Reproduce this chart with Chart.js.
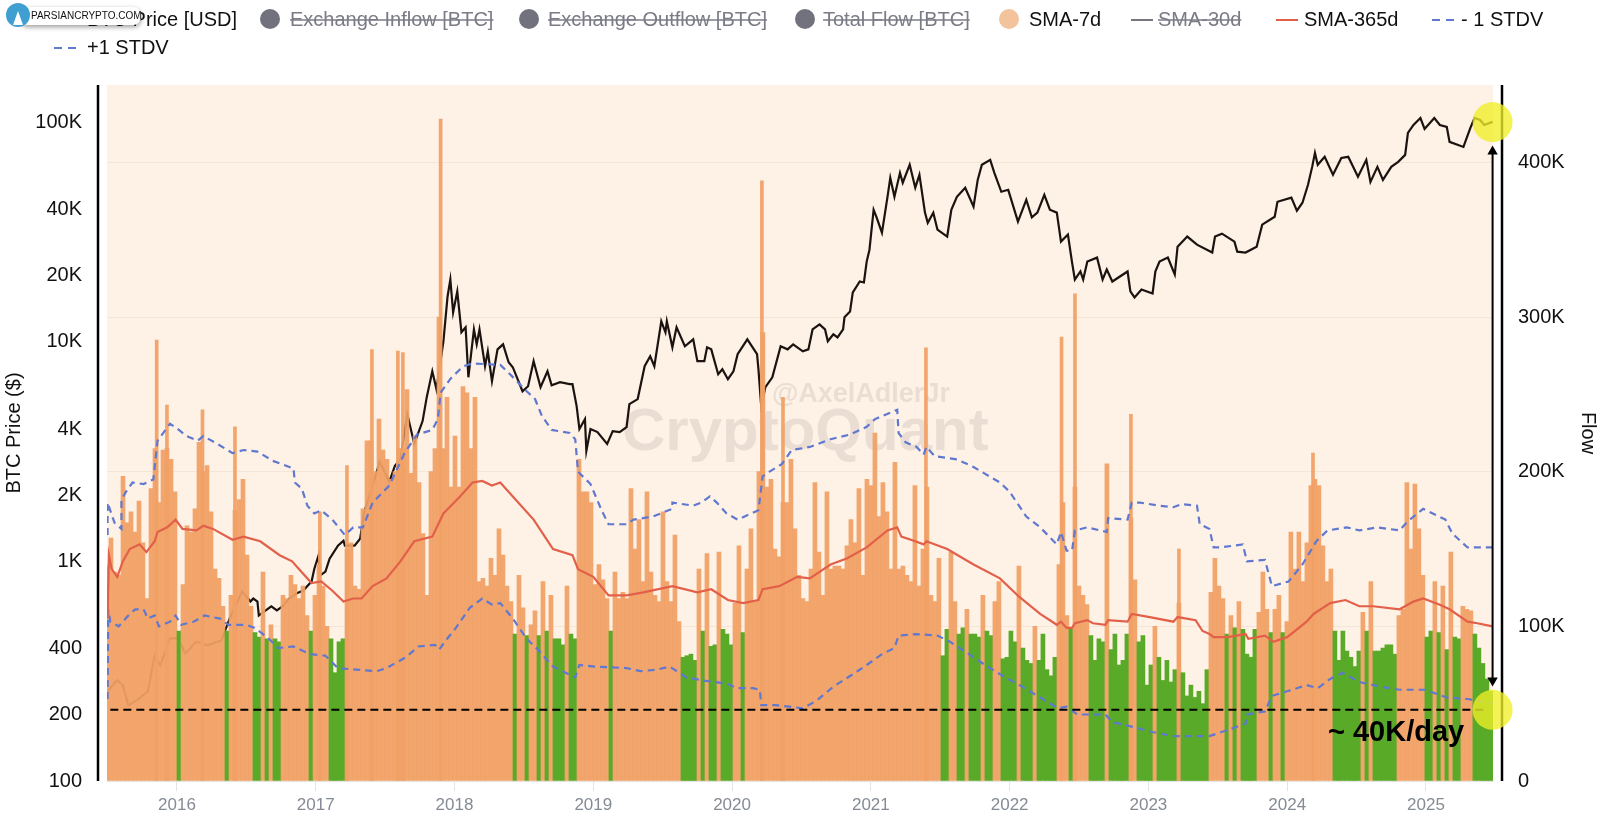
<!DOCTYPE html>
<html>
<head>
<meta charset="utf-8">
<title>BTC Exchange Flow</title>
<script src="https://cdn.jsdelivr.net/npm/chart.js@4/dist/chart.umd.min.js"></script>
<style>
  html, body { margin: 0; padding: 0; background: #fff; }
  canvas { display: block; }
</style>
</head>
<body>
<canvas id="flowChart" width="1600" height="818"></canvas>
<script>
// --- tick labels ---
const yearTicks = [2016, 2017, 2018, 2019, 2020, 2021, 2022, 2023, 2024, 2025];
const priceTicks = [100, 200, 400, 1000, 2000, 4000, 10000, 20000, 40000, 100000];
const flowTicks = [0, 100, 200, 300, 400];

// --- legend ---
const legendLabels = ['BTC Price [USD]', 'Exchange Inflow [BTC]', 'Exchange Outflow [BTC]', 'Total Flow [BTC]', 'SMA-7d', 'SMA-30d', 'SMA-365d', '- 1 STDV', '+1 STDV'];
const legendHidden = [false, true, true, true, false, true, false, false, false];

// --- flow bars, thousands of BTC, one value every flowStepYears ---
const flowStartYear = 2015.496;
const flowStepYears = 0.02882;
const flowValues = [
  139,157,135,133,197,167,174,161,181,154,
  118,189,215,180,214,215,208,187,97,127,
  165,161,176,219,200,204,174,137,131,113,
  97,120,175,182,195,146,113,96,93,135,
  92,101,92,90,120,118,133,127,118,126,
  107,97,120,140,126,100,92,70,90,92,
  150,154,126,124,176,220,220,200,234,214,
  208,195,200,215,215,253,199,223,193,160,
  120,200,215,300,215,248,190,223,190,255,
  251,215,248,129,131,126,144,133,163,146,
  126,116,95,133,112,94,101,110,94,129,
  97,120,92,92,88,126,95,92,208,187,
  187,180,127,140,130,118,97,135,118,122,
  118,189,150,169,129,187,135,120,116,174,
  129,116,159,103,80,81,82,78,137,97,
  147,87,88,148,98,95,88,115,152,96,
  137,163,116,200,290,190,195,150,145,180,
  180,208,163,133,118,116,137,193,148,120,
  187,137,139,139,137,152,169,154,189,133,
  195,191,225,171,193,174,137,206,137,139,
  133,129,191,126,150,190,120,116,144,81,
  98,148,116,95,99,111,95,95,93,120,
  97,94,116,129,79,80,97,90,139,86,
  78,76,100,78,95,72,68,80,140,180,
  107,98,190,126,120,114,94,78,92,90,
  205,85,95,75,78,95,170,130,90,94,
  62,75,100,80,65,78,64,72,115,70,
  55,62,54,58,50,72,122,144,126,118,
  95,107,99,116,98,82,80,98,109,135,
  111,96,111,120,96,103,161,137,161,129,
  154,191,195,191,152,129,137,97,78,97,
  84,80,74,84,109,97,129,84,84,86,
  88,88,82,107,111,193,150,192,163,133,
  93,97,129,96,126,85,148,93,92,113,
  111,110,95,86,76,66,58
];
const flowSplit = 100; // bars under this level are green

// --- the sharp tips of the tallest flow spikes ---
const spikeYears = [2015.854, 2015.928, 2016.184, 2016.418, 2017.03, 2017.225, 2017.405, 2017.592, 2017.628, 2017.90, 2020.215, 2020.367, 2021.397, 2022.374, 2022.471, 2022.874, 2023.22, 2024.186];
const spikeValues = [285, 243, 240, 229, 174, 204, 279, 278, 277, 428, 388, 248, 280, 287, 315, 237, 150, 212];

// --- BTC price, USD ---
const priceYears = [
  2015.50,2015.57,2015.61,2015.65,2015.71,2015.79,2015.84,2015.88,2015.95,2016.01,2016.06,2016.14,2016.22,2016.32,2016.38,2016.47,2016.53,2016.55,2016.58,2016.59,2016.63,2016.68,2016.72,2016.76,2016.81,2016.86,2016.91,2016.97,2016.99,2017.02,2017.03,2017.07,2017.10,2017.16,2017.20,2017.21,2017.28,2017.32,2017.35,2017.41,2017.46,2017.48,2017.53,2017.57,2017.61,
  2017.66,2017.71,2017.77,2017.80,2017.84,2017.87,2017.92,2017.95,2017.97,2017.99,2018.02,2018.05,2018.08,2018.10,2018.14,2018.16,2018.18,2018.22,2018.24,2018.27,2018.31,2018.35,2018.39,2018.42,2018.49,2018.53,2018.57,2018.62,2018.67,2018.70,2018.76,2018.83,
  2018.85,2018.88,2018.90,2018.94,2018.95,2018.98,2019.03,2019.10,2019.14,2019.19,2019.24,2019.26,2019.32,2019.37,2019.41,2019.44,2019.49,2019.52,2019.53,2019.57,2019.60,2019.66,2019.72,2019.75,2019.80,2019.82,2019.85,2019.90,2019.93,2019.97,2020.01,2020.04,2020.11,2020.18,2020.19,2020.21,2020.24,2020.29,2020.35,2020.40,2020.44,2020.51,2020.55,2020.58,2020.63,2020.67,2020.69,2020.73,2020.76,2020.80,2020.81,2020.85,2020.87,2020.92,2020.95,2020.97,2020.99,
  2021.02,2021.04,2021.08,2021.12,2021.14,2021.17,2021.21,2021.23,2021.28,2021.32,2021.35,2021.39,2021.41,2021.45,2021.48,2021.55,2021.58,2021.62,2021.68,2021.74,2021.77,2021.80,2021.86,2021.89,2021.94,2021.99,2022.06,2022.12,2022.16,2022.20,2022.25,2022.29,2022.34,2022.37,2022.42,2022.45,2022.47,2022.51,2022.53,2022.56,2022.63,2022.67,2022.70,2022.74,2022.85,2022.87,2022.90,2022.95,
  2023.03,2023.05,2023.08,2023.14,2023.19,2023.21,2023.28,2023.35,2023.46,2023.48,2023.53,2023.62,2023.64,2023.70,2023.78,2023.82,2023.91,2023.93,2024.03,2024.07,2024.11,2024.15,2024.18,2024.20,2024.22,2024.27,2024.33,2024.39,2024.44,2024.51,2024.57,2024.60,2024.65,2024.69,2024.75,2024.80,2024.85,2024.87,2024.91,2024.96,2024.99,2025.06,2025.10,2025.15,2025.17,2025.27,2025.32,2025.35,2025.39,2025.42,2025.48
];
const priceValues = [
  256,288,273,221,233,256,373,336,446,446,381,432,415,437,550,729,657,678,657,567,592,624,598,624,678,714,737,810,927,1063,862,899,1030,1180,1243,1180,1180,1270,1683,2208,2840,2694,2302,2723,2930,
  4690,3428,4360,5603,7350,6090,10070,16100,19240,13630,16980,11060,11650,6900,11400,9750,11400,7750,9060,6620,9250,9750,8080,7670,5960,6280,8170,6220,7350,6350,6555,6420,
  6420,5100,4010,4450,3185,4010,3885,3430,3925,3885,4095,5210,5490,7750,8600,7750,12410,11060,12410,9450,11650,9550,10280,8170,8170,9450,9250,7130,7510,6760,7350,8790,10280,8790,7510,5100,6220,6900,9550,9250,9750,9060,9250,11400,12020,11400,10070,10830,10490,11400,12940,13770,16800,18840,18650,23220,26300,
  40000,37150,31460,45800,55900,45800,58900,53100,64100,50400,57700,38800,34900,38800,32450,30200,40000,45800,50400,41300,54700,64100,67500,58900,48300,49300,35300,44400,36900,38800,46800,40000,38800,28640,30830,22980,19240,20930,19240,23220,24210,19240,21360,18840,20930,16980,15950,17340,
  16620,20930,23220,24210,20280,27160,30200,27730,25530,30200,31130,28640,25780,25530,27160,34200,37150,43500,45400,39600,43050,52000,62700,72600,64100,69700,57700,68900,69700,56500,67500,53600,62700,54700,62700,66100,71100,89500,97300,104700,93300,104700,97300,95300,81500,77300,94400,104700,102600,97300,100500
];

// --- SMA-365d, thousands of BTC ---
const smaYears = [
  2015.50,2015.51,2015.53,2015.57,2015.61,2015.66,2015.73,2015.78,2015.84,2015.86,2015.93,2015.99,2016.04,2016.14,2016.19,2016.26,2016.40,2016.48,2016.60,2016.74,2016.83,2016.89,2016.97,2017.04,2017.12,2017.20,2017.27,2017.33,2017.41,2017.51,2017.61,2017.71,2017.84,2017.92,
  2018.04,2018.13,2018.20,2018.27,2018.33,2018.42,2018.57,2018.71,2018.85,2018.89,2019.00,2019.11,2019.24,2019.36,2019.57,2019.75,2019.85,2019.97,2020.08,2020.19,2020.22,2020.34,2020.47,2020.56,2020.71,2020.83,2020.97,
  2021.12,2021.19,2021.22,2021.32,2021.38,2021.40,2021.55,2021.74,2021.93,2022.07,2022.22,2022.34,2022.37,2022.41,2022.45,2022.47,2022.56,2022.60,2022.69,2022.71,2022.85,2022.88,
  2023.01,2023.18,2023.21,2023.34,2023.39,2023.44,2023.47,2023.57,2023.70,2023.72,2023.84,2023.90,2024.00,2024.14,2024.19,2024.31,2024.42,2024.52,2024.62,2024.81,2024.91,2024.98,2025.10,2025.17,2025.30,2025.37,2025.48
];
const smaValues = [
  105,146,137,132,142,150,153,148,155,161,164,169,163,162,165,163,156,158,155,146,142,136,128,129,123,116,118,118,126,131,142,155,158,173,
  184,193,194,191,193,184,169,150,146,137,132,120,120,122,126,122,124,117,115,117,124,126,132,131,140,144,151,
  162,164,158,155,153,155,150,140,131,119,108,101,103,99,99,102,104,102,101,104,103,108,
  106,103,106,104,97,95,93,93,95,92,94,90,93,103,108,115,117,113,113,111,116,118,114,111,103,102,100
];

// --- +1 STDV, thousands of BTC ---
const upperYears = [
  2015.50,2015.50,2015.55,2015.60,2015.60,2015.64,2015.68,2015.76,2015.83,2015.86,2015.91,2015.95,2016.00,2016.07,2016.15,2016.19,2016.29,2016.40,2016.48,2016.58,2016.69,2016.84,2016.85,2016.90,2016.94,2016.99,2017.04,2017.12,2017.21,2017.27,2017.34,2017.41,2017.53,2017.64,2017.73,2017.84,2017.88,2017.90,2017.97,
  2018.06,2018.13,2018.33,2018.40,2018.52,2018.58,2018.63,2018.70,2018.83,2018.87,2018.89,2018.98,2019.06,2019.11,2019.24,2019.29,2019.43,2019.57,2019.57,2019.72,2019.78,2019.84,2019.89,2019.96,2020.04,2020.14,2020.19,2020.22,2020.27,2020.36,2020.43,2020.56,2020.71,2020.85,2020.97,
  2021.03,2021.19,2021.20,2021.25,2021.33,2021.38,2021.40,2021.46,2021.62,2021.74,2021.93,2022.00,2022.12,2022.22,2022.34,2022.37,2022.41,2022.45,2022.47,2022.56,2022.70,2022.71,2022.85,2022.88,2022.94,
  2023.08,2023.18,2023.24,2023.35,2023.37,2023.44,2023.47,2023.52,2023.68,2023.71,2023.84,2023.89,2024.01,2024.11,2024.21,2024.29,2024.43,2024.52,2024.65,2024.81,2024.87,2024.98,2025.14,2025.19,2025.30,2025.48
];
const upperValues = [
  159,180,167,163,182,188,193,192,195,220,226,231,228,223,220,223,218,212,214,213,207,202,193,189,178,173,175,169,159,164,164,180,191,212,224,227,234,251,260,
  268,270,269,263,252,247,236,227,225,221,200,192,175,166,166,169,171,176,180,178,180,184,180,173,169,173,175,197,200,205,214,216,221,224,229,
  234,240,225,219,216,211,216,210,208,203,193,187,171,164,153,161,149,149,162,164,161,170,169,180,180,
  178,177,179,178,166,163,151,151,153,142,143,126,129,140,155,162,164,162,164,162,168,176,169,160,151,151
];

// --- -1 STDV, thousands of BTC ---
const lowerYears = [
  2015.50,2015.505,2015.52,2015.58,2015.66,2015.70,2015.76,2015.79,2015.84,2015.87,2015.95,2015.99,2016.03,2016.12,2016.20,2016.31,2016.37,2016.50,2016.56,2016.65,2016.73,2016.84,2016.96,2017.07,2017.16,2017.29,2017.44,2017.51,2017.65,2017.74,2017.86,2017.89,2017.93,
  2018.01,2018.11,2018.20,2018.27,2018.33,2018.42,2018.52,2018.60,2018.71,2018.87,2018.90,2019.01,2019.24,2019.34,2019.46,2019.55,2019.67,2019.79,2019.96,2020.04,2020.15,2020.20,2020.21,2020.32,2020.51,2020.61,2020.73,2020.87,2020.97,
  2021.08,2021.17,2021.20,2021.33,2021.48,2021.57,2021.69,2021.84,2021.95,2022.07,2022.22,2022.35,2022.41,2022.49,2022.69,2022.74,2022.89,
  2023.01,2023.18,2023.44,2023.70,2023.71,2023.84,2023.89,2024.00,2024.14,2024.22,2024.31,2024.40,2024.52,2024.67,2024.81,2024.99,2025.15,2025.30,2025.44,2025.48
];
const lowerValues = [
  53,111,103,100,108,111,111,105,107,100,103,107,101,103,107,105,101,101,99,93,86,87,82,81,73,72,71,73,80,87,88,85,90,
  99,112,118,114,115,105,92,85,74,67,75,74,73,71,72,74,67,65,63,60,60,59,49,49,47,52,61,69,75,
  82,86,94,95,94,90,83,74,68,62,54,47,48,43,43,38,35,
  32,29,29,37,43,45,55,58,62,60,66,70,64,61,59,59,54,53,51,50
];

// --- annotations, thousands of BTC ---
const levelYears = [2015.52, 2025.45];
const levelValue = 46;
const arrowYear = 2025.48;
const arrowTop = 407;
const arrowBottom = 65;
const highlightValues = [426, 46];

const toPoints = (xs, ys) => xs.map((x, i) => ({ x: x, y: ys[i] }));

const fontName = '"Liberation Sans", Arial, sans-serif';
const orange = 'rgba(241,160,100,0.93)';
const green = 'rgb(89,170,40)';
const plotColor = '#fef1e5';
const mutedColor = '#7b7b86';

// page furniture that is not data: plot background, side rules, watermarks, legend, logo
const decorations = {
  id: 'decorations',
  beforeDraw(chart) {
    const { ctx, chartArea: a } = chart;
    ctx.save();
    ctx.fillStyle = '#fff';
    ctx.fillRect(0, 0, chart.width, chart.height);
    ctx.fillStyle = plotColor;
    ctx.fillRect(a.left, a.top, a.right - a.left, a.bottom - a.top);
    ctx.restore();
  },
  beforeDatasetsDraw(chart) {
    const { ctx, chartArea: a } = chart;
    ctx.save();
    ctx.fillStyle = 'rgba(120,110,110,0.15)';
    ctx.textBaseline = 'alphabetic';
    ctx.font = 'bold 60px ' + fontName;
    ctx.fillText('CryptoQuant', 622, 450);
    ctx.font = 'bold 27px ' + fontName;
    ctx.fillText('@AxelAdlerJr', 772, 402);
    // side rules
    ctx.strokeStyle = '#000';
    ctx.lineWidth = 2.5;
    ctx.beginPath();
    ctx.moveTo(a.left - 9, a.top);
    ctx.lineTo(a.left - 9, a.bottom);
    ctx.moveTo(a.right + 9, a.top);
    ctx.lineTo(a.right + 9, a.bottom);
    ctx.stroke();
    ctx.restore();
  },
  afterDatasetsDraw(chart) {
    const { ctx } = chart;
    ctx.save();
    ctx.fillStyle = '#000';
    ctx.font = 'bold 29px ' + fontName;
    ctx.textBaseline = 'middle';
    ctx.fillText('~ 40K/day', 1328, 733);
    ctx.restore();
  },
  afterDraw(chart) {
    drawLegend(chart.ctx);
    drawLogo(chart.ctx);
  },
};

function drawLegend(ctx) {
  const icons = ['line', 'dot', 'dot', 'dot', 'dot', 'line', 'line', 'dash', 'dash'];
  const iconColors = ['#444', '#72727e', '#72727e', '#72727e', '#f3c39c', '#77777f', '#e2604a', '#6078d0', '#6078d0'];
  const iconX = [60, 270, 529, 805, 1009, 1131, 1276, 1432, 54];
  const textX = [87, 290, 548, 823, 1029, 1158, 1304, 1461, 87];
  const rowY = [20, 20, 20, 20, 20, 20, 20, 20, 48];

  ctx.save();
  ctx.font = '20px ' + fontName;
  ctx.textBaseline = 'middle';
  legendLabels.forEach((label, i) => {
    const y = rowY[i];
    ctx.strokeStyle = iconColors[i];
    ctx.fillStyle = iconColors[i];
    if (icons[i] === 'dot') {
      ctx.beginPath();
      ctx.arc(iconX[i], y - 1, 10, 0, Math.PI * 2);
      ctx.fill();
    } else {
      ctx.lineWidth = 2;
      ctx.setLineDash(icons[i] === 'dash' ? [8, 6] : []);
      ctx.beginPath();
      ctx.moveTo(iconX[i], y);
      ctx.lineTo(iconX[i] + 22, y);
      ctx.stroke();
      ctx.setLineDash([]);
    }
    ctx.fillStyle = legendHidden[i] ? mutedColor : '#111';
    ctx.fillText(label, textX[i], y);
    if (legendHidden[i]) {
      ctx.strokeStyle = mutedColor;
      ctx.lineWidth = 1.5;
      ctx.beginPath();
      ctx.moveTo(textX[i], y);
      ctx.lineTo(textX[i] + ctx.measureText(label).width, y);
      ctx.stroke();
    }
  });
  ctx.restore();
}

function drawLogo(ctx) {
  ctx.save();
  ctx.shadowColor = 'rgba(0,0,0,0.4)';
  ctx.shadowBlur = 5;
  ctx.shadowOffsetY = 2;
  ctx.fillStyle = '#fff';
  ctx.beginPath();
  ctx.roundRect(20, 7, 121, 18, 8);
  ctx.fill();
  ctx.shadowColor = 'transparent';
  ctx.fillStyle = '#3f9fd0';
  ctx.beginPath();
  ctx.arc(18, 15, 12, 0, Math.PI * 2);
  ctx.fill();
  ctx.fillStyle = '#fff';
  ctx.beginPath();
  ctx.moveTo(18, 11);
  ctx.lineTo(23, 25);
  ctx.lineTo(13, 25);
  ctx.closePath();
  ctx.fill();
  ctx.fillStyle = '#111';
  ctx.font = '10px ' + fontName;
  ctx.textBaseline = 'middle';
  ctx.fillText('PARSIANCRYPTO.COM', 31, 16);
  ctx.restore();
}

new Chart(document.getElementById('flowChart'), {
  data: {
    datasets: [
      {
        type: 'line',
        label: 'highlights',
        data: [{ x: arrowYear, y: highlightValues[0] }, { x: arrowYear, y: highlightValues[1] }],
        yAxisID: 'yFlow',
        showLine: false,
        pointRadius: 20,
        pointBackgroundColor: 'rgba(240,238,40,0.78)',
        pointBorderWidth: 0,
        clip: false,
        order: 0,
      },
      {
        type: 'line',
        label: 'range arrow',
        data: [{ x: arrowYear, y: arrowTop }, { x: arrowYear, y: arrowBottom }],
        yAxisID: 'yFlow',
        borderColor: '#000',
        borderWidth: 2,
        pointStyle: 'triangle',
        pointRadius: 6,
        pointRotation: [0, 180],
        pointBackgroundColor: '#000',
        pointBorderWidth: 0,
        clip: false,
        order: 1,
      },
      {
        type: 'line',
        label: '40K level',
        data: levelYears.map((x) => ({ x: x, y: levelValue })),
        yAxisID: 'yFlow',
        borderColor: '#000',
        borderWidth: 2,
        borderDash: [8, 5],
        pointRadius: 0,
        order: 2,
      },
      {
        type: 'line',
        label: legendLabels[6],
        data: toPoints(smaYears, smaValues),
        yAxisID: 'yFlow',
        borderColor: '#e2604a',
        borderWidth: 2.2,
        pointRadius: 0,
        tension: 0,
        order: 3,
      },
      {
        type: 'line',
        label: legendLabels[7],
        data: toPoints(lowerYears, lowerValues),
        yAxisID: 'yFlow',
        borderColor: '#6078d0',
        borderWidth: 2.2,
        borderDash: [7, 5],
        pointRadius: 0,
        tension: 0,
        order: 3,
      },
      {
        type: 'line',
        label: legendLabels[8],
        data: toPoints(upperYears, upperValues),
        yAxisID: 'yFlow',
        borderColor: '#6078d0',
        borderWidth: 2.2,
        borderDash: [7, 5],
        pointRadius: 0,
        tension: 0,
        order: 3,
      },
      {
        type: 'bar',
        label: legendLabels[4],
        data: flowValues.map((v, i) => ({ x: flowStartYear + i * flowStepYears, y: v })),
        yAxisID: 'yFlow',
        backgroundColor: flowValues.map((v) => (v < flowSplit ? green : orange)),
        borderWidth: 0,
        barThickness: 4,
        grouped: false,
        order: 4,
      },
      {
        type: 'bar',
        label: 'spike tips',
        data: toPoints(spikeYears, spikeValues),
        yAxisID: 'yFlow',
        backgroundColor: orange,
        borderWidth: 0,
        barThickness: 3,
        grouped: false,
        order: 4,
      },
      {
        type: 'line',
        label: legendLabels[0],
        data: toPoints(priceYears, priceValues),
        yAxisID: 'yPrice',
        borderColor: '#1a1310',
        borderWidth: 2.2,
        pointRadius: 0,
        tension: 0,
        order: 5,
      },
    ],
  },
  options: {
    responsive: false,
    animation: false,
    layout: { padding: { top: 85, left: 0, right: 0, bottom: 0 } },
    plugins: { legend: { display: false }, tooltip: { enabled: false } },
    scales: {
      x: {
        type: 'linear',
        offset: false,
        min: 2015.496,
        max: 2025.483,
        afterBuildTicks: (scale) => { scale.ticks = yearTicks.map((v) => ({ value: v })); },
        afterFit: (scale) => { scale.height = 35; },
        grid: { offset: false, drawOnChartArea: false, drawTicks: true, tickLength: 10, tickColor: '#e3e3e3' },
        border: { color: '#e3e3e3' },
        ticks: {
          autoSkip: false,
          maxRotation: 0,
          padding: 4,
          color: '#858b94',
          font: { family: fontName, size: 17 },
          callback: (v) => String(v),
        },
      },
      yPrice: {
        type: 'logarithmic',
        position: 'left',
        min: 100,
        max: 148000,
        afterBuildTicks: (scale) => { scale.ticks = priceTicks.map((v) => ({ value: v })); },
        afterFit: (scale) => { scale.width = 107; },
        grid: { display: false },
        border: { display: false },
        title: { display: true, text: 'BTC Price ($)', color: '#111', font: { family: fontName, size: 20 }, padding: { top: 2, bottom: 0 } },
        ticks: {
          autoSkip: false,
          padding: 17,
          color: '#111',
          font: { family: fontName, size: 20 },
          callback: (v) => (v >= 1000 ? v / 1000 + 'K' : String(v)),
        },
      },
      yFlow: {
        type: 'linear',
        position: 'right',
        min: 0,
        max: 450,
        afterBuildTicks: (scale) => { scale.ticks = flowTicks.map((v) => ({ value: v })); },
        afterFit: (scale) => { scale.width = 107; },
        grid: { color: 'rgba(160,130,110,0.10)', drawTicks: false },
        border: { display: false },
        title: { display: true, text: 'Flow', color: '#111', font: { family: fontName, size: 20 }, padding: { top: 0, bottom: 3 } },
        ticks: {
          autoSkip: false,
          padding: 25,
          color: '#111',
          font: { family: fontName, size: 20 },
          callback: (v) => (v === 0 ? '0' : v + 'K'),
        },
      },
    },
  },
  plugins: [decorations],
});
</script>
</body>
</html>
